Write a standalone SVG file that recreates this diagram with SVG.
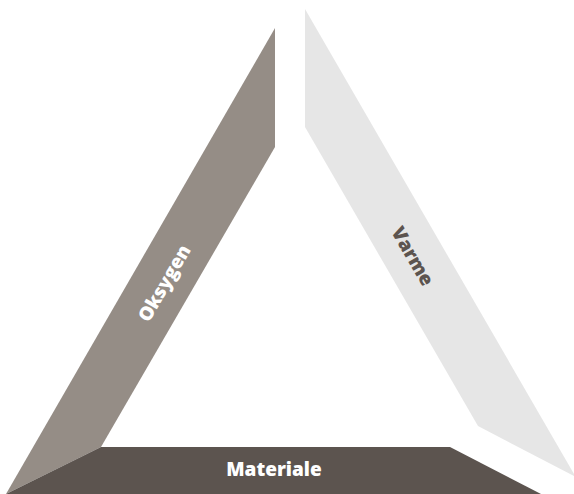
<svg xmlns="http://www.w3.org/2000/svg" width="574" height="494" viewBox="0 0 574 494">
<style>
.lbl{font-family:"Open Sans","Liberation Sans",sans-serif;font-weight:800;font-size:19px;text-anchor:middle;dominant-baseline:central}
</style>
<rect width="574" height="494" fill="#ffffff"/>
<g id="varme">
<polygon points="305,9 305,127 478,426 574,476 574,474" fill="#e6e6e6"/>
<text class="lbl" x="413" y="256" fill="#5c544f" transform="rotate(60 413 256)">Varme</text>
</g>
<g id="oksygen">
<polygon points="275,28 275,147 101,447 6,494" fill="#958d86"/>
<text class="lbl" x="164" y="283" fill="#ffffff" transform="rotate(-60 164 283)">Oksygen</text>
</g>
<g id="materiale">
<polygon points="6,494 101,447 450,447 541,494" fill="#5c544f"/>
<text class="lbl" x="274" y="469" fill="#ffffff">Materiale</text>
</g>
<g id="connectors"></g>
</svg>
